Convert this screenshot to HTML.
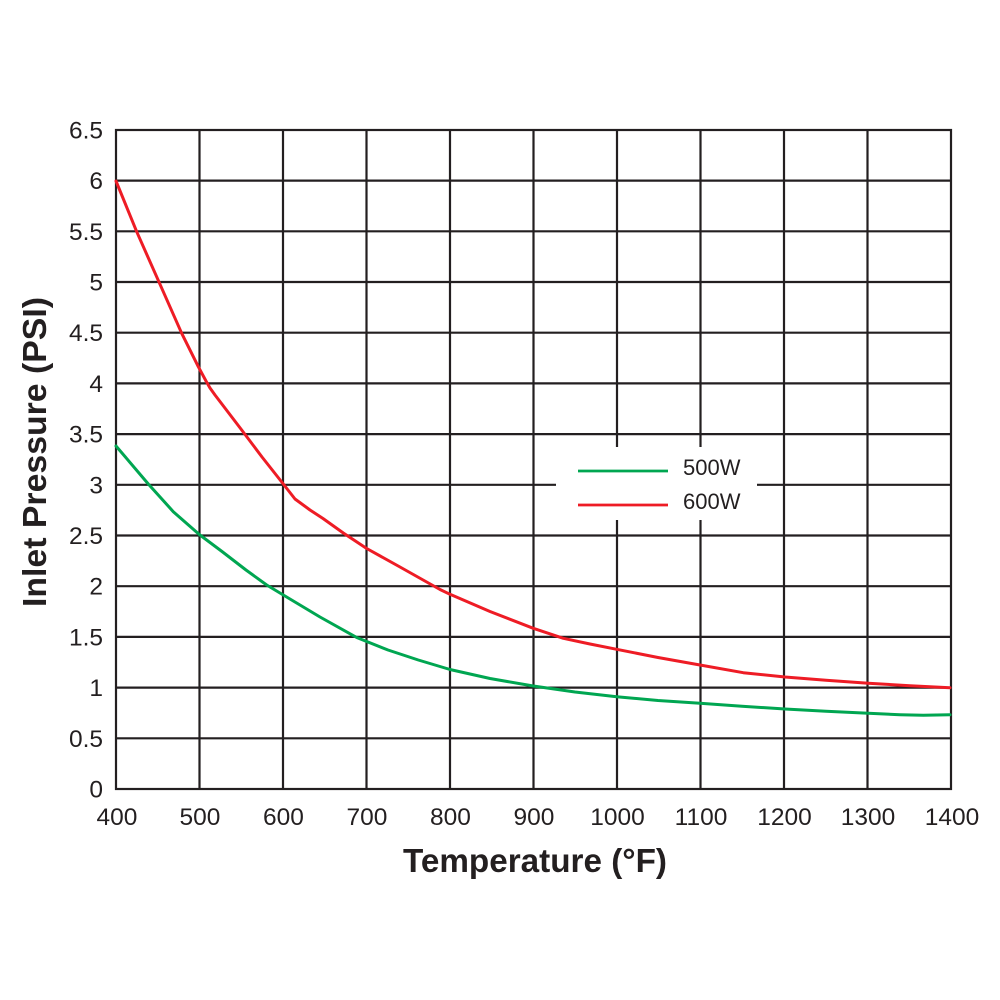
<!DOCTYPE html>
<html>
<head>
<meta charset="utf-8">
<style>
  html, body { margin: 0; padding: 0; background: #ffffff; }
  svg { display: block; }
  text { font-family: "Liberation Sans", Arial, sans-serif; fill: #231f20; }
</style>
</head>
<body>
<svg width="1000" height="1000" viewBox="0 0 1000 1000" xmlns="http://www.w3.org/2000/svg">
  <rect x="0" y="0" width="1000" height="1000" fill="#ffffff"/>

  <!-- grid -->
  <g stroke="#231f20" stroke-width="2.2" fill="none">
    <line x1="199.5" y1="130" x2="199.5" y2="789"/>
    <line x1="283" y1="130" x2="283" y2="789"/>
    <line x1="366.5" y1="130" x2="366.5" y2="789"/>
    <line x1="450" y1="130" x2="450" y2="789"/>
    <line x1="533.5" y1="130" x2="533.5" y2="789"/>
    <line x1="617" y1="130" x2="617" y2="789"/>
    <line x1="700.5" y1="130" x2="700.5" y2="789"/>
    <line x1="784" y1="130" x2="784" y2="789"/>
    <line x1="867.5" y1="130" x2="867.5" y2="789"/>
    <line x1="116" y1="738.3" x2="951" y2="738.3"/>
    <line x1="116" y1="687.6" x2="951" y2="687.6"/>
    <line x1="116" y1="636.9" x2="951" y2="636.9"/>
    <line x1="116" y1="586.2" x2="951" y2="586.2"/>
    <line x1="116" y1="535.5" x2="951" y2="535.5"/>
    <line x1="116" y1="484.8" x2="951" y2="484.8"/>
    <line x1="116" y1="434.1" x2="951" y2="434.1"/>
    <line x1="116" y1="383.4" x2="951" y2="383.4"/>
    <line x1="116" y1="332.7" x2="951" y2="332.7"/>
    <line x1="116" y1="282" x2="951" y2="282"/>
    <line x1="116" y1="231.3" x2="951" y2="231.3"/>
    <line x1="116" y1="180.6" x2="951" y2="180.6"/>
    <rect x="116" y="130" width="835" height="659"/>
  </g>

  <!-- legend box (covers grid) -->
  <rect x="556" y="447" width="201" height="73" fill="#ffffff"/>
  <line x1="578" y1="471" x2="668" y2="471" stroke="#00a651" stroke-width="2.8"/>
  <line x1="578" y1="505" x2="668" y2="505" stroke="#ee1c25" stroke-width="2.8"/>
  <text x="683" y="475" font-size="22">500W</text>
  <text x="683" y="509" font-size="22">600W</text>

  <!-- series -->
  <polyline fill="none" stroke="#00a651" stroke-width="3" stroke-linejoin="round" stroke-linecap="round"
    points="116,446 148.3,484 173.3,511.7 199.3,534.5 222,551.5 246,570 266.7,585 283.3,595 320,617 356.7,637.5 388,650 418.3,660 450,669.5 490,678.5 533.3,686 575,692 616.7,696.7 658,700.5 700,703.3 742,706.3 785,709 826,711.3 868.3,713.3 900,714.7 923.3,715.3 950,714.7"/>
  <polyline fill="none" stroke="#ee1c25" stroke-width="3" stroke-linejoin="round" stroke-linecap="round"
    points="116,181 136.7,231.7 159.3,282.7 181.7,333.3 198.3,366.7 206,381 210,388 215,395 241.7,430 262,457 283.3,484 295,499 310,510 323,518.5 343.3,533 366.7,548.5 400,567 440,589.5 450,594.3 490,611.5 533.3,628.3 563.3,638.3 590,644 616.7,649.3 658,657.5 700,665 743.3,672.7 785,677 826,680.3 868.3,683.3 910,685.7 950,687.7"/>

  <!-- y tick labels -->
  <g font-size="24.5" text-anchor="end">
    <text x="103" y="797.5">0</text>
    <text x="103" y="746.8">0.5</text>
    <text x="103" y="696.1">1</text>
    <text x="103" y="645.4">1.5</text>
    <text x="103" y="594.7">2</text>
    <text x="103" y="544">2.5</text>
    <text x="103" y="493.3">3</text>
    <text x="103" y="442.6">3.5</text>
    <text x="103" y="391.9">4</text>
    <text x="103" y="341.2">4.5</text>
    <text x="103" y="290.5">5</text>
    <text x="103" y="239.8">5.5</text>
    <text x="103" y="189.1">6</text>
    <text x="103" y="138.5">6.5</text>
  </g>

  <!-- x tick labels -->
  <g font-size="24.5" text-anchor="middle">
    <text x="117" y="825">400</text>
    <text x="200" y="825">500</text>
    <text x="283.5" y="825">600</text>
    <text x="367" y="825">700</text>
    <text x="450.5" y="825">800</text>
    <text x="534" y="825">900</text>
    <text x="617.5" y="825">1000</text>
    <text x="701" y="825">1100</text>
    <text x="784.5" y="825">1200</text>
    <text x="868" y="825">1300</text>
    <text x="952" y="825">1400</text>
  </g>

  <!-- axis titles -->
  <text x="403" y="872" font-size="33" font-weight="bold" textLength="264" lengthAdjust="spacingAndGlyphs">Temperature (°F)</text>
  <text transform="translate(46,607) rotate(-90)" x="0" y="0" font-size="33" font-weight="bold" textLength="310" lengthAdjust="spacingAndGlyphs">Inlet Pressure (PSI)</text>
</svg>
</body>
</html>
